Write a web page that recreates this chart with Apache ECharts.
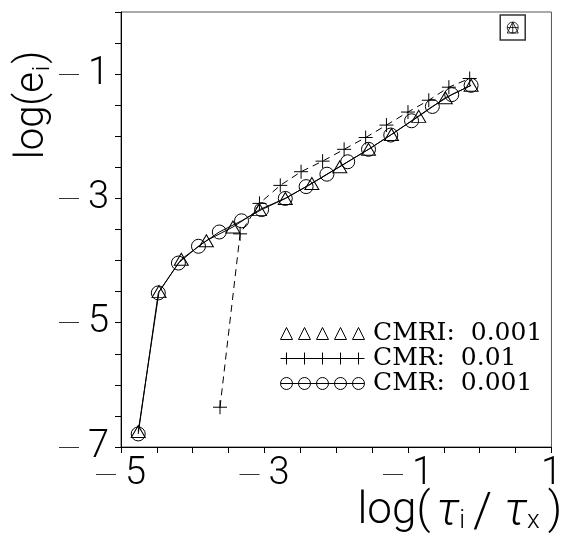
<!DOCTYPE html>
<html><head><meta charset="utf-8">
<script src="https://cdn.jsdelivr.net/npm/echarts@6/dist/echarts.min.js"></script>
<style>html,body{margin:0;padding:0;background:#fff}#c{width:565px;height:537px}</style>
</head><body><div id="c"></div>
<script>
// ---- data ----
const cmriX = [-4.76,-4.47,-4.16,-3.81,-3.44,-3.07,-2.71,-2.34,-1.95,-1.55,-1.23,-0.85,-0.48,-0.12];
const cmriY = [-6.75,-4.50,-3.98,-3.68,-3.46,-3.18,-3.00,-2.76,-2.49,-2.21,-1.97,-1.68,-1.38,-1.18];
const cmr01X = [-3.62,-3.34,-3.07,-2.78,-2.49,-2.19,-1.89,-1.59,-1.30,-1.00,-0.71,-0.43,-0.14];
const cmr01Y = [-6.36,-3.57,-3.08,-2.79,-2.57,-2.40,-2.21,-2.02,-1.82,-1.61,-1.42,-1.21,-1.07];
const cmr001X = [-4.76,-4.48,-4.20,-3.92,-3.63,-3.32,-3.04,-2.71,-2.42,-2.13,-1.84,-1.55,-1.24,-0.95,-0.66,-0.39,-0.12];
const cmr001Y = [-6.79,-4.52,-4.04,-3.77,-3.54,-3.36,-3.18,-3.00,-2.81,-2.61,-2.41,-2.21,-1.98,-1.75,-1.52,-1.33,-1.18];
const refX = [0.46];
const refY = [-0.25];
const seriesNames = ['CMRI:  0.001', 'CMR:  0.01', 'CMR:  0.001'];
const xTickValues = [-5, -3, -1, 1];
const xTickLabels = ['\u22125', '\u22123', '\u22121', '1'];
const yTickValues = [-7, -5, -3, -1];
const yTickLabels = ['\u22127', '\u22125', '\u22123', '\u22121'];
const xTitle = ['log(', 'τ', 'i', '/', 'τ', 'x', ')'];
const yTitle = ['log(e', 'i', ')'];

const zip = (xs, ys) => xs.map((x, i) => [x, ys[i]]);
// negative labels: long thin dash + digit, as in the original plotting package
const richLabel = s => s.charAt(0) === '\u2212' ? `{m|\u2500}{n|${s.slice(1)}}` : `{p|${s}}`;
const labelFor = (vals, labs) => v => { const k = vals.findIndex(t => Math.abs(t - v) < 1e-9); return k >= 0 ? richLabel(labs[k]) : ''; };

const thin = 'Roboto';
const plusPath = 'path://M0,6 L12,6 M6,0 L6,12';
const hollow = { color: 'rgba(0,0,0,0)', borderColor: '#000', borderWidth: 1 };

// legend icons: five markers each
let triPath = 'path://', plusRow = 'path://M0,6 L84,6', circRow = 'path://M0,6 L84,6';
for (let k = 0; k < 5; k++) {
  const x0 = 18 * k;
  triPath += `M${x0},12 L${x0 + 6},0 L${x0 + 12},12 Z `;
  plusRow += ` M${x0 + 6},0 L${x0 + 6},12`;
  circRow += ` M${x0},6 A6,6 0 1,0 ${x0 + 12},6 A6,6 0 1,0 ${x0},6`;
}

const tickRich = {
  m: { fontFamily: 'Noto Sans CJK SC', fontSize: 20, color: '#000' },
  n: { fontFamily: thin, fontWeight: 300, fontSize: 38, color: '#000', padding: [0, 0, 0, 9] },
  p: { fontFamily: thin, fontWeight: 300, fontSize: 38, color: '#000' }
};

const axisCommon = {
  type: 'value', interval: 0.5,
  axisLine: { show: true, onZero: false, lineStyle: { color: '#000', width: 1 } },
  axisTick: { show: true, length: 6, lineStyle: { color: '#000', width: 1 } },
  splitLine: { show: false },
};

const main = (extra) => Object.assign({ fontFamily: thin, fontWeight: 300, fontSize: 40, lineHeight: 42, verticalAlign: 'top', fill: '#000' }, extra || {});
const sub = (extra) => Object.assign({ fontFamily: thin, fontWeight: 300, fontSize: 24, lineHeight: 42, verticalAlign: 'bottom', fill: '#000' }, extra || {});

const chart = echarts.init(document.getElementById('c'));
chart.setOption({
  animation: false,
  backgroundColor: '#fff',
  grid: { left: 121, right: 12, top: 12, bottom: 90, show: true, borderColor: '#555', borderWidth: 1 },
  xAxis: Object.assign({}, axisCommon, {
    min: -5, max: 1,
    axisLabel: { formatter: labelFor(xTickValues, xTickLabels), rich: tickRich, margin: 8, showMinLabel: true, showMaxLabel: true }
  }),
  yAxis: Object.assign({}, axisCommon, {
    min: -7, max: 0,
    axisLabel: { formatter: labelFor(yTickValues, yTickLabels), rich: tickRich, margin: 12, showMinLabel: true, showMaxLabel: true }
  }),
  legend: {
    orient: 'vertical', left: 275, top: 316, itemGap: 0, itemWidth: 85, itemHeight: 12,
    selectedMode: false,
    textStyle: { fontFamily: 'DejaVu Serif', fontSize: 25, color: '#000', lineHeight: 25, padding: [0, 0, 0, 3] },
    data: [
      { name: seriesNames[0], icon: triPath, itemStyle: hollow },
      { name: seriesNames[1], icon: plusRow, itemStyle: hollow },
      { name: seriesNames[2], icon: circRow, itemStyle: hollow }
    ]
  },
  graphic: [
    {
      type: 'text', x: 34, y: 105, rotation: Math.PI / 2,
      style: {
        text: `{a|${yTitle[0]}}{s|${yTitle[1]}}{a|${yTitle[2]}}`,
        align: 'center', verticalAlign: 'middle',
        rich: { a: main(), s: sub({ padding: [0, 2, 0, 1] }) }
      }
    },
    {
      type: 'text', x: 562, y: 512,
      style: {
        text: `{a|${xTitle[0]}}{t|${xTitle[1]}}{s|${xTitle[2]}}{sl|${xTitle[3]}}{t|${xTitle[4]}}{s|${xTitle[5]}}{a|${xTitle[6]}}`,
        align: 'right', verticalAlign: 'middle',
        rich: {
          a: main({ fontSize: 44, lineHeight: 44, padding: [0, 0, 0, 4] }),
          t: main({ fontStyle: 'italic', fontSize: 46, lineHeight: 44, padding: [0, 0, 0, 6] }),
          sl: main({ fontSize: 48, lineHeight: 44, padding: [0, 6, 0, 4] }),
          s: sub({ fontSize: 26, lineHeight: 44, padding: [0, 4, 0, 0] })
        }
      }
    }
  ],
  series: [
    {
      name: seriesNames[0], type: 'line', data: zip(cmriX, cmriY),
      symbol: 'triangle', symbolSize: [14, 12], itemStyle: hollow,
      lineStyle: { color: '#000', width: 1 }, z: 3
    },
    {
      name: seriesNames[1], type: 'line', data: zip(cmr01X, cmr01Y),
      symbol: plusPath, symbolSize: 14, itemStyle: hollow,
      lineStyle: { color: '#000', width: 1, type: [7, 5] }, z: 2
    },
    {
      name: seriesNames[2], type: 'line', data: zip(cmr001X, cmr001Y),
      symbol: 'circle', symbolSize: 14, itemStyle: hollow,
      lineStyle: { color: '#000', width: 1 }, z: 4
    },
    {
      name: 'ref', type: 'scatter', z: 5,
      data: [
        { value: [refX[0], refY[0]], symbol: 'rect', symbolSize: 25, itemStyle: { color: 'rgba(0,0,0,0)', borderColor: '#000', borderWidth: 1.5 } },
        { value: [refX[0], refY[0]], symbol: 'circle', symbolSize: 11, itemStyle: hollow },
        { value: [refX[0], refY[0]], symbol: 'triangle', symbolSize: 11, itemStyle: hollow },
        { value: [refX[0], refY[0]], symbol: plusPath, symbolSize: 11, itemStyle: hollow }
      ]
    }
  ]
});
</script></body></html>
